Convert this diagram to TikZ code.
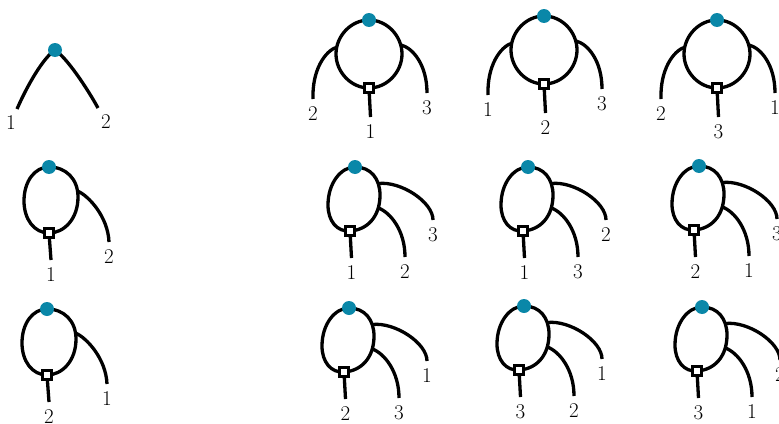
\documentclass[tikz,border=0pt]{standalone}
\usepackage{tikz}
\usetikzlibrary{positioning,calc}
\definecolor{vtxblue}{HTML}{0A87A8}

\tikzset{
  % two legs on one vertex
  pics/vee/.style n args={2}{code={
    \coordinate (-top) at (0,0);
    \coordinate (-el) at (-38,59);
    \coordinate (-er) at (43,58);
    \draw[leg] (-top) .. controls (-12,8) and (-28,36) .. (-el);
    \draw[leg] (-top) .. controls (12,8) and (32,38) .. (-er);
    \node[vtx] (-dot) at (-top) {};
    \node[lbl, below=3pt, xshift=-6pt] (-lab1) at (-el) {#1};
    \node[lbl, below=3pt, xshift=8pt] (-lab2) at (-er) {#2};
  }},
  % loop, one leg on the right side
  pics/oneside/.style n args={2}{code={
    \coordinate (-top) at (0,0);
    \coordinate (-bot) at (0,66);
    \coordinate (-ar) at (28.5,24);
    \coordinate (-er) at (60,75);
    \coordinate (-eb) at (2,93);
    \draw[leg] (-top) .. controls (17,0) and (29,12) .. (29,30) .. controls (29,52) and (15,66) .. (-bot);
    \draw[leg] (-bot) .. controls (-15,66) and (-25,52) .. (-25,34) .. controls (-25,14) and (-14,0) .. (-top);
    \draw[leg] (-ar) .. controls (40,29) and (59,50) .. (-er);
    \draw[leg] (-bot) -- (-eb);
    \node[vtx] (-dot) at (-top) {};
    \node[sqr] (-sq) at (-bot) {};
    \node[lbl, below=4pt] (-lab1) at (-eb) {#1};
    \node[lbl, below=4pt] (-lab2) at (-er) {#2};
  }},
  % loop, legs on both sides
  pics/bothsides/.style n args={3}{code={
    \coordinate (-top) at (0,0);
    \coordinate (-bot) at (0,68);
    \coordinate (-al) at (-32,27);
    \coordinate (-ar) at (32,25);
    \coordinate (-el) at (-56,79);
    \coordinate (-er) at (58,73);
    \coordinate (-eb) at (1.5,97);
    \draw[leg] (-top) .. controls (18,0) and (33,16) .. (33,34) .. controls (33,52) and (18,68) .. (-bot);
    \draw[leg] (-bot) .. controls (-18,68) and (-33,52) .. (-33,34) .. controls (-33,16) and (-18,0) .. (-top);
    \draw[leg] (-al) .. controls (-44,31) and (-57,50) .. (-el);
    \draw[leg] (-ar) .. controls (44,28) and (58,45) .. (-er);
    \draw[leg] (-bot) -- (-eb);
    \node[vtx] (-dot) at (-top) {};
    \node[sqr] (-sq) at (-bot) {};
    \node[lbl, below=4pt] (-lab1) at (-el) {#1};
    \node[lbl, below=4pt] (-lab2) at (-eb) {#2};
    \node[lbl, below=4pt] (-lab3) at (-er) {#3};
  }},
  % loop, two legs on the right side
  pics/rightpair/.style n args={3}{code={
    \coordinate (-top) at (0,0);
    \coordinate (-bot) at (-5,64);
    \coordinate (-au) at (23.5,16.5);
    \coordinate (-al) at (23.5,41);
    \coordinate (-eu) at (78,53);
    \coordinate (-el) at (50,90);
    \coordinate (-eb) at (-3.5,91);
    \draw[leg] (-top) .. controls (16,0) and (25,12) .. (25,28) .. controls (25,50) and (12,63) .. (-bot);
    \draw[leg] (-bot) .. controls (-18,65) and (-27,54) .. (-27,38) .. controls (-27,16) and (-14,0) .. (-top);
    \draw[leg] (-au) .. controls (46,14) and (78,35) .. (-eu);
    \draw[leg] (-al) .. controls (36,46) and (50,64) .. (-el);
    \draw[leg] (-bot) -- (-eb);
    \node[vtx] (-dot) at (-top) {};
    \node[sqr] (-sq) at (-bot) {};
    \node[lbl, below=4pt] (-lab1) at (-eb) {#1};
    \node[lbl, below=4pt] (-lab2) at (-el) {#2};
    \node[lbl, below=4pt] (-lab3) at (-eu) {#3};
  }}
}

\begin{document}
\begin{tikzpicture}[x=1pt, y=-1pt,
  leg/.style={line width=3.3pt},
  vtx/.style={circle, fill=vtxblue, inner sep=0pt, minimum size=14pt},
  sqr/.style={draw, fill=white, line width=2.5pt, inner sep=0pt, minimum size=9pt},
  lbl/.style={font=\fontsize{21}{25}\selectfont}]
  \useasboundingbox (0,0) rectangle (779,423);
  \clip (0,0) rectangle (779,423);
  % first row
  \pic (r1c1) at (55,50) {vee={1}{2}};
  \pic (r1c2) at (369,20) {bothsides={2}{1}{3}};
  \pic (r1c3) at (544,16) {bothsides={1}{2}{3}};
  \pic (r1c4) at (717,20) {bothsides={2}{3}{1}};
  % second row
  \pic (r2c1) at (49,167) {oneside={1}{2}};
  \pic (r2c2) at (355,167) {rightpair={1}{2}{3}};
  \pic (r2c3) at (528,167) {rightpair={1}{3}{2}};
  \pic (r2c4) at (699,166) {rightpair={2}{1}{3}};
  % third row
  \pic (r3c1) at (47,309) {oneside={2}{1}};
  \pic (r3c2) at (349,308) {rightpair={2}{3}{1}};
  \pic (r3c3) at (524,306) {rightpair={3}{2}{1}};
  \pic (r3c4) at (702,307) {rightpair={3}{1}{2}};
\end{tikzpicture}
\end{document}
